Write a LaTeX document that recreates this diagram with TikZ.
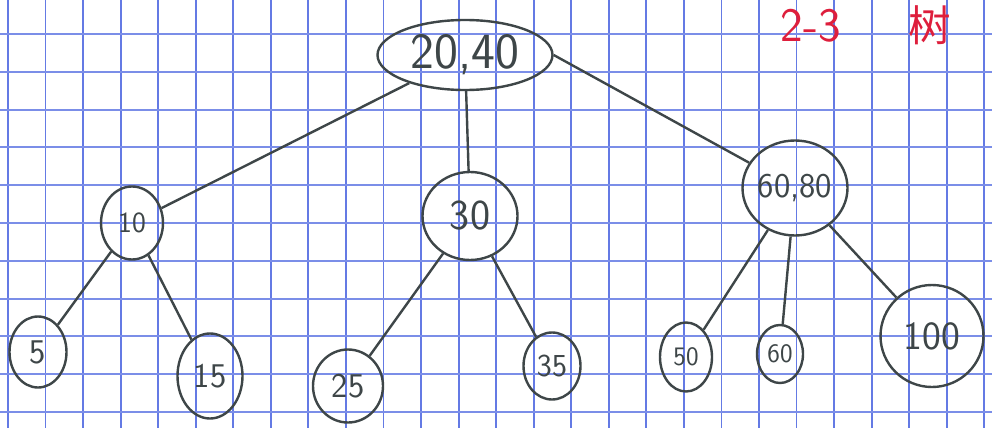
\documentclass[tikz,border=0pt]{standalone}
\usepackage{fontspec}
\newfontfamily\cjk{Noto Sans CJK SC}
\usetikzlibrary{shapes.geometric}
\definecolor{pencil}{RGB}{62,70,72}
\definecolor{gridblue}{RGB}{100,122,228}
\definecolor{redpen}{RGB}{222,30,60}
\newcommand{\px}[1]{#1*0.75pt}
\newcommand{\hand}[1]{\sffamily\fontsize{#1}{#1}\selectfont}

\tikzset{
  keynode/.style={draw=pencil, ellipse, line width=1.8pt, inner sep=0pt, text=pencil},
  edge/.style={draw=pencil, line width=1.8pt},
  redtext/.style={text=redpen, inner sep=0pt, font=\hand{36}}
}

\begin{document}
\begin{tikzpicture}[x=0.75pt,y=-0.75pt]
        \useasboundingbox (0,0) rectangle (992,428);
        \fill[white] (0,0) rectangle (992,428);

        % Papel quadriculado
        \begin{scope}
            \clip (0,0) rectangle (992,428);
            \foreach \i in {0,...,26}
                \draw[gridblue, line width=1.4pt] (8+37.55*\i,0) -- (8+37.55*\i,428);
            \foreach \j in {0,...,10}
                \draw[gridblue!85, line width=1.4pt] (0,34+37.8*\j) -- (992,34+37.8*\j);
        \end{scope}

        % Raiz
        \node[keynode, minimum width=\px{175}, minimum height=\px{70}, font=\hand{38}] (r2040) at (465,55) {20,40};

        % Nível intermediário
        \node[keynode, minimum width=\px{62}, minimum height=\px{73}, font=\hand{22}] (n10) at (132,223) {10};
        \node[keynode, minimum width=\px{95}, minimum height=\px{88}, font=\hand{32}] (n30) at (470,216) {30};
        \node[keynode, minimum width=\px{105}, minimum height=\px{95}, font=\hand{26}] (n6080) at (795,188) {60,80};

        % Folhas
        \node[keynode, minimum width=\px{57}, minimum height=\px{71}, font=\hand{26}] (f5) at (38,352) {5};
        \node[keynode, minimum width=\px{65}, minimum height=\px{85}, font=\hand{26}] (f15) at (210,376) {15};
        \node[keynode, minimum width=\px{70}, minimum height=\px{73}, font=\hand{26}] (f25) at (348,386) {25};
        \node[keynode, minimum width=\px{57}, minimum height=\px{67}, font=\hand{24}] (f35) at (552,366) {35};
        \node[keynode, minimum width=\px{52}, minimum height=\px{69}, font=\hand{20}] (f50) at (686,357) {50};
        \node[keynode, minimum width=\px{46}, minimum height=\px{58}, font=\hand{20}] (f60) at (780,354) {60};
        \node[keynode, minimum width=\px{103}, minimum height=\px{102}, font=\hand{30}] (f100) at (932,336) {100};

        % Ligações
        \draw[edge] (r2040) -- (n10);
        \draw[edge] (r2040) -- (n30);
        \draw[edge] (r2040.east) -- (n6080);
        \draw[edge] (n10) -- (f5);
        \draw[edge] (n10) -- (f15);
        \draw[edge] (n30) -- (f25);
        \draw[edge] (n30) -- (f35);
        \draw[edge] (n6080) -- (f50);
        \draw[edge] (n6080) -- (f60);
        \draw[edge] (n6080) -- (f100);

        % Título em vermelho
        \node[redtext] (lbltwo) at (811,26) {2-3};
        \node[redtext, font=\cjk\fontsize{32}{32}\selectfont] (lbltree) at (930,25) {树};
\end{tikzpicture}
\end{document}
